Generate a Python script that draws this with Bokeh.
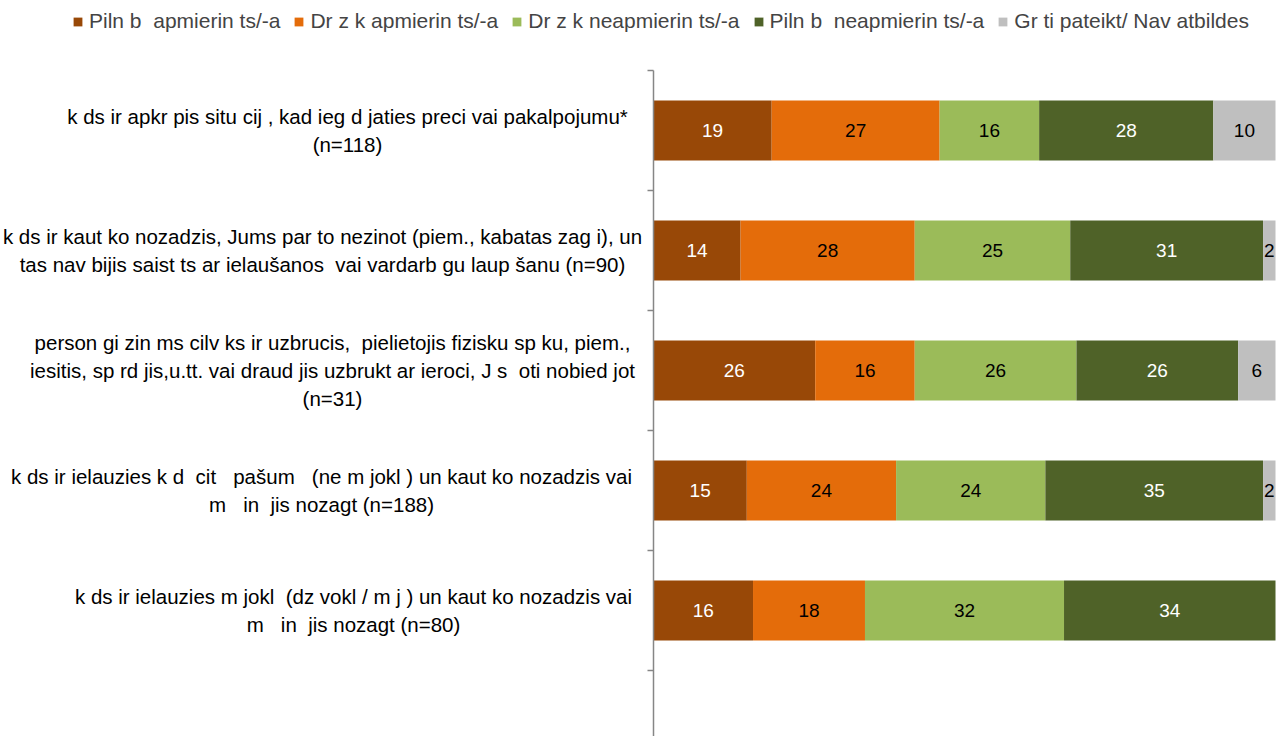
from bokeh.plotting import figure
from bokeh.models import ColumnDataSource, Range1d, LinearAxis, FixedTicker, Legend, LegendItem
from bokeh.core.properties import value
from bokeh.embed import file_html
from bokeh.resources import INLINE

G = "\u00a0"  # visible gap left by glyphs missing in the original rendering

# ---------------- data ----------------
categories = [
    f"k{G}ds ir apkr{G}pis situ{G}cij{G}, kad ieg{G}d{G}jaties preci vai pakalpojumu*\n(n=118)",
    f"k{G}ds ir kaut ko nozadzis, Jums par to nezinot (piem., kabatas zag{G}i), un\ntas nav bijis saist{G}ts ar ielaušanos{G} vai vardarb{G}gu laup{G}šanu (n=90)",
    f"person{G}gi zin{G}ms cilv{G}ks ir uzbrucis,{G} pielietojis fizisku sp{G}ku, piem.,\niesitis, sp{G}rd{G}jis,u.tt. vai draud{G}jis uzbrukt ar ieroci, J{G}s{G}{G}oti nobied{G}jot\n(n=31)",
    f"k{G}ds ir ielauzies k{G}d{G}{G}cit{G}{G}{G}pašum{G}{G}{G}(ne m{G}jokl{G}) un kaut ko nozadzis vai\nm{G}{G}{G}in{G}{G}jis nozagt (n=188)",
    f"k{G}ds ir ielauzies m{G}jokl{G}{G}(dz{G}vokl{G}/ m{G}j{G}) un kaut ko nozadzis vai\nm{G}{G}{G}in{G}{G}jis nozagt (n=80)",
]
series_names = [
    f"Piln{G}b{G}{G}apmierin{G}ts/-a",
    f"Dr{G}z{G}k apmierin{G}ts/-a",
    f"Dr{G}z{G}k neapmierin{G}ts/-a",
    f"Piln{G}b{G}{G}neapmierin{G}ts/-a",
    f"Gr{G}ti pateikt/ Nav atbildes",
]
fully_satisfied = [19, 14, 26, 15, 16]
rather_satisfied = [27, 28, 16, 24, 18]
rather_unsatisfied = [16, 25, 26, 24, 32]
fully_unsatisfied = [28, 31, 26, 35, 34]
hard_to_say = [10, 2, 6, 2, 0]

# ---------------- styles / layout ----------------
colors = ["#984807", "#E46C0A", "#9BBB59", "#4F6228", "#BFBFBF"]
value_text_colors = ["white", "black", "black", "white", "black"]
label_center_px = [347, 322, 332, 321, 353]   # page px centres of category label blocks

W, H = 1288, 736
AXIS_PX = 653          # axis position (page x)
PX_PER_UNIT = 6.22
TOP_PX = 70            # first tick (page y)
BAND_PX = 120

xr = Range1d(-AXIS_PX / PX_PER_UNIT, (W - AXIS_PX) / PX_PER_UNIT)
y_bottom = (H - TOP_PX) / BAND_PX
yr = Range1d(y_bottom, -TOP_PX / BAND_PX)

p = figure(width=W, height=H, x_range=xr, y_range=yr, output_backend="svg",
           toolbar_location=None, x_axis_type=None, y_axis_type=None,
           min_border=0, outline_line_color=None)
p.grid.visible = False

keys = ["s1", "s2", "s3", "s4", "s5"]
series = [fully_satisfied, rather_satisfied, rather_unsatisfied, fully_unsatisfied, hard_to_say]
ys = [i + 0.5 for i in range(len(categories))]
data = {"y": ys}
for k, s in zip(keys, series):
    data[k] = s
src = ColumnDataSource(data)

renderers = p.hbar_stack(keys, y="y", height=0.5, color=colors, source=src, line_color=None)

# value labels
vx, vy, vt, vc = [], [], [], []
for i in range(len(categories)):
    left = 0
    for j, s in enumerate(series):
        v = s[i]
        if v > 0:
            vx.append(left + v / 2)
            vy.append(ys[i])
            vt.append(str(v))
            vc.append(value_text_colors[j])
        left += v
vsrc = ColumnDataSource(dict(x=vx, y=vy, text=vt, color=vc))
p.text(x="x", y="y", text="text", text_color="color", source=vsrc,
       text_align="center", text_baseline="middle",
       text_font=value("Liberation Sans"), text_font_size="19px")

# category labels
lx = [(c - AXIS_PX) / PX_PER_UNIT for c in label_center_px]
lsrc = ColumnDataSource(dict(x=lx, y=ys, text=categories))
p.text(x="x", y="y", text="text", source=lsrc, text_align="center",
       text_baseline="middle", text_color="black",
       text_font=value("Liberation Sans"), text_font_size="20.5px",
       text_line_height=1.22)

# axis
ax = LinearAxis(fixed_location=0, bounds=(0, y_bottom),
                ticker=FixedTicker(ticks=[0, 1, 2, 3, 4, 5]),
                major_label_text_font_size="0px",
                major_label_overrides={t: "" for t in range(6)},
                axis_line_color="#868686", axis_line_width=1.5,
                major_tick_line_color="#868686", major_tick_line_width=1.5,
                major_tick_out=6, major_tick_in=0,
                minor_tick_out=0, minor_tick_in=0)
p.add_layout(ax, "left")

legend = Legend(items=[LegendItem(label=n, renderers=[r]) for n, r in zip(series_names, renderers)],
                location=(72, 703), orientation="horizontal",
                glyph_width=11, glyph_height=11, label_standoff=6, spacing=13,
                padding=0, margin=0, border_line_color=None, background_fill_alpha=0,
                label_text_font="Liberation Sans", label_text_font_size="21px",
                label_height=22)
p.add_layout(legend)

open("out.html", "w").write(file_html(p, INLINE))
